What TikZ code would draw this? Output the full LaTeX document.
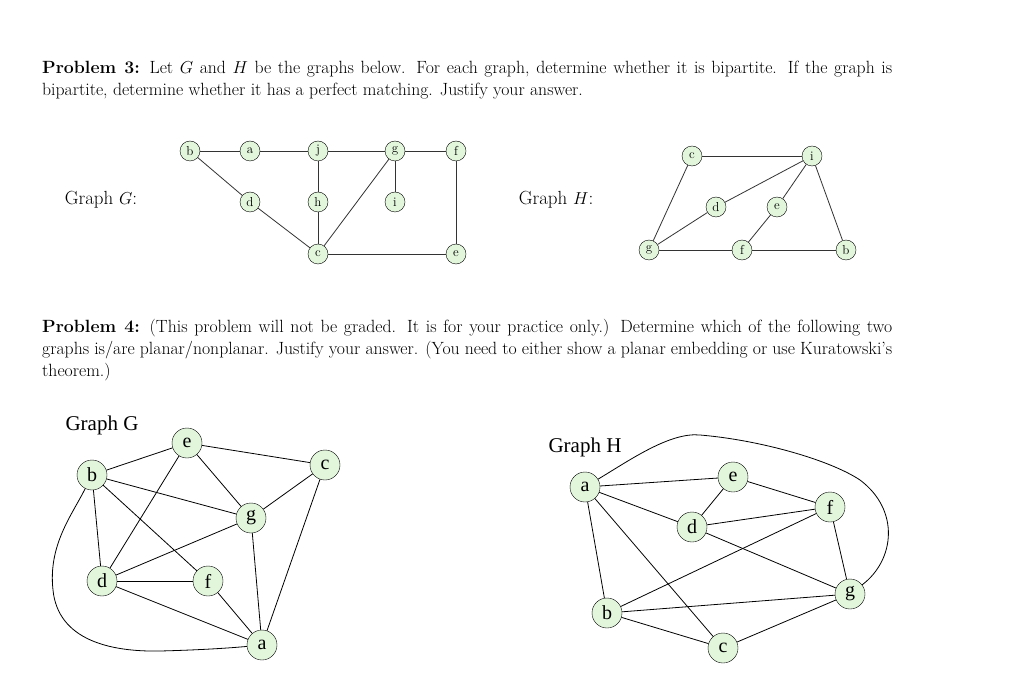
\documentclass[tikz,border=0pt]{standalone}
\usepackage{fontspec}
\newfontfamily\tms{Liberation Serif}
\definecolor{nfill}{HTML}{E2F6DC}
\begin{document}
\begin{tikzpicture}[x=1pt,y=-1pt,
  sv/.style={circle,draw,fill=nfill,minimum size=20pt,inner sep=0pt,font=\fontsize{13}{13}\selectfont},
  bv/.style={circle,draw,fill=nfill,minimum size=30pt,inner sep=0pt,font=\tms\fontsize{20}{20}\selectfont},
  ed/.style={draw=black!80,line width=0.8pt},
  be/.style={draw=black,line width=0.8pt},
  para/.style={anchor=north west,text width=850pt,inner sep=0pt,align=justify,font=\fontsize{17.7}{22}\selectfont}]
\useasboundingbox[fill=white] (0,0) rectangle (1024,700);
\node[para] (p3) at (42,61) {\textbf{Problem 3:} Let $G$ and $H$ be the graphs below. For each graph, determine whether it is bipartite. If the graph is bipartite, determine whether it has a perfect matching. Justify your answer.};
\node[para] (p4) at (42,319) {\textbf{Problem 4:} (This problem will not be graded. It is for your practice only.) Determine which of the following two graphs is/are planar/nonplanar. Justify your answer. (You need to either show a planar embedding or use Kuratowski's theorem.)};
\node[font=\fontsize{19}{20}\selectfont] (lg) at (101,200) {Graph $G$:};
\node[font=\fontsize{19}{20}\selectfont] (lh) at (556,200) {Graph $H$:};
% top G
\node[sv] (b) at (190,151) {b}; \node[sv] (a) at (250,151) {a};
\node[sv] (j) at (318,151) {j}; \node[sv] (g) at (395,151) {g};
\node[sv] (f) at (456,151) {f}; \node[sv] (d) at (250,202) {d};
\node[sv] (h) at (318,202) {h}; \node[sv] (i) at (395,202) {i};
\node[sv] (c) at (318,254) {c}; \node[sv] (e) at (456,254) {e};
\foreach \u/\v in {b/a,a/j,j/g,g/f,b/d,j/h,g/i,d/c,h/c,c/g,c/e,f/e} \path[ed] (\u)--(\v);
% top H
\node[sv] (Hc) at (692,156) {c}; \node[sv] (Hi) at (812,156) {i};
\node[sv] (Hd) at (716,207) {d}; \node[sv] (He) at (777,207) {e};
\node[sv] (Hg) at (649,250) {g}; \node[sv] (Hf) at (742,250) {f};
\node[sv] (Hb) at (846,250) {b};
\foreach \u/\v in {Hc/Hi,Hc/Hg,Hi/Hd,Hi/He,Hi/Hb,Hd/Hg,He/Hf,Hg/Hf,Hf/Hb} \path[ed] (\u)--(\v);
% bottom G
\node[font=\tms\fontsize{21}{21}\selectfont] (tG) at (102,425) {Graph G};
\node[bv] (Be) at (187,443) {e}; \node[bv] (Bb) at (92,475) {b};
\node[bv] (Bc) at (325,465) {c}; \node[bv] (Bg) at (251,518) {g};
\node[bv] (Bd) at (102,581) {d}; \node[bv] (Bf) at (208,581) {f};
\node[bv] (Ba) at (262,645) {a};
\foreach \u/\v in {Bb/Be,Be/Bc,Be/Bg,Be/Bd,Bb/Bg,Bb/Bd,Bb/Bf,Bc/Bg,Bc/Ba,Bg/Bd,Bg/Ba,Bd/Bf,Bd/Ba,Bf/Ba} \path[be] (\u)--(\v);
\path[be] (Bb) .. controls (72,515) and (48,545) .. (53,590) .. controls (58,640) and (110,652) .. (160,651) .. controls (200,650) and (230,648) .. (Ba);
% bottom H
\node[font=\tms\fontsize{21}{21}\selectfont] (tH) at (585,447) {Graph H};
\node[bv] (Ka) at (585,487) {a}; \node[bv] (Ke) at (733,477) {e};
\node[bv] (Kf) at (830,507) {f}; \node[bv] (Kd) at (692,527) {d};
\node[bv] (Kg) at (850,594) {g}; \node[bv] (Kb) at (607,613) {b};
\node[bv] (Kc) at (723,648) {c};
\foreach \u/\v in {Ka/Ke,Ka/Kd,Ka/Kb,Ka/Kc,Ke/Kd,Ke/Kf,Kd/Kf,Kd/Kg,Kf/Kb,Kf/Kg,Kb/Kg,Kb/Kc,Kc/Kg} \path[be] (\u)--(\v);
\path[be] (Ka) .. controls (630,460) and (670,432) .. (700,435) .. controls (760,440) and (830,460) .. (860,480) .. controls (900,510) and (895,560) .. (Kg);
\end{tikzpicture}
\end{document}
